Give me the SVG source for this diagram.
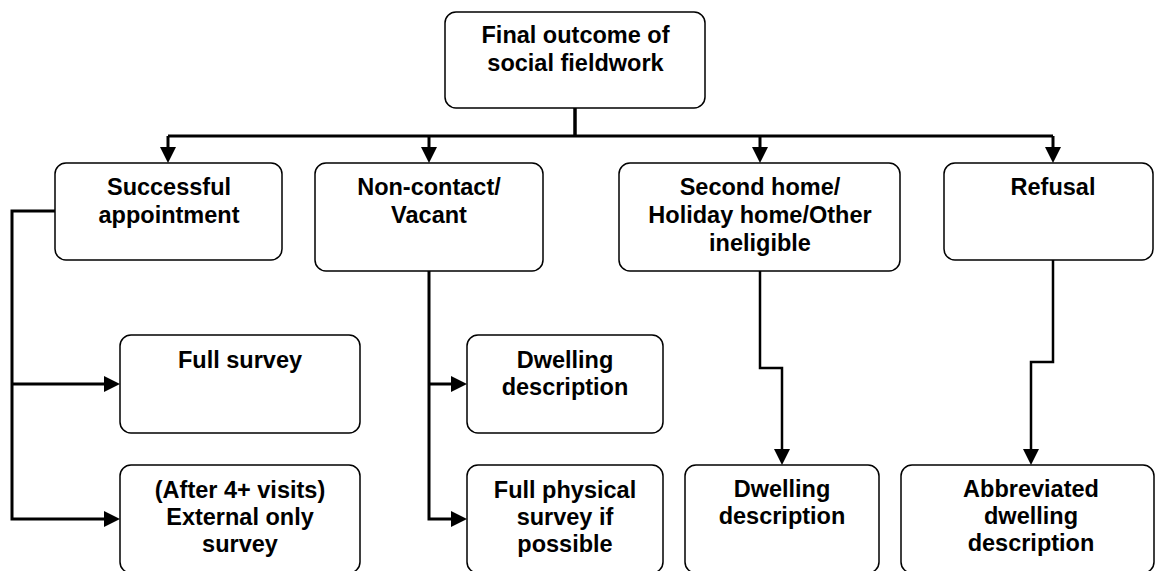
<svg xmlns="http://www.w3.org/2000/svg" width="1155" height="571" viewBox="0 0 1155 571">
<style>
.box{fill:#fff;stroke:#000;stroke-width:1.5}
.t{font-family:"Liberation Sans",Arial,sans-serif;font-weight:bold;font-size:23.5px;fill:#000;text-anchor:middle}
.c{fill:none;stroke:#000;stroke-width:3;stroke-linejoin:miter}
</style>
<defs>
<marker id="ah" markerUnits="userSpaceOnUse" viewBox="0 0 16 16" refX="6" refY="8" markerWidth="16" markerHeight="16" orient="auto">
<path d="M0,0 L16,8 L0,16 z" fill="#000"/>
</marker>
</defs>
<rect width="1155" height="571" fill="#fff"/>
<g id="connectors">
<path class="c" d="M575,108 V136" style="stroke-width:3.5"/>
<path class="c" d="M168,136 H1053"/>
<path class="c" d="M168,136 V153" marker-end="url(#ah)"/>
<path class="c" d="M429,136 V153" marker-end="url(#ah)"/>
<path class="c" d="M760,136 V153" marker-end="url(#ah)"/>
<path class="c" d="M1053,136 V153" marker-end="url(#ah)"/>
<path class="c" d="M55,211 H12 V519 H110" marker-end="url(#ah)"/>
<path class="c" d="M12,384 H110" marker-end="url(#ah)"/>
<path class="c" d="M429,271 V519 H457" marker-end="url(#ah)"/>
<path class="c" d="M429,384 H457" marker-end="url(#ah)"/>
<path class="c" d="M760,271 V368 H782 V455" marker-end="url(#ah)" style="stroke-width:2.5"/>
<path class="c" d="M1053,260 V362 H1031 V455" marker-end="url(#ah)" style="stroke-width:2.5"/>
</g>
<g id="n-final">
<rect class="box" x="445" y="12" width="260" height="96" rx="11"/>
<text class="t" x="575.5" y="43">Final outcome of</text>
<text class="t" x="575.5" y="71">social fieldwork</text>
</g>
<g id="n-successful">
<rect class="box" x="55" y="163" width="227" height="97" rx="11"/>
<text class="t" x="169" y="195">Successful</text>
<text class="t" x="169" y="223">appointment</text>
</g>
<g id="n-noncontact">
<rect class="box" x="315" y="163" width="228" height="108" rx="11"/>
<text class="t" x="429" y="195">Non-contact/</text>
<text class="t" x="429" y="223">Vacant</text>
</g>
<g id="n-second">
<rect class="box" x="619" y="163" width="281" height="108" rx="11"/>
<text class="t" x="760" y="195">Second home/</text>
<text class="t" x="760" y="223">Holiday home/Other</text>
<text class="t" x="760" y="251">ineligible</text>
</g>
<g id="n-refusal">
<rect class="box" x="944" y="163" width="209" height="97" rx="11"/>
<text class="t" x="1053" y="195">Refusal</text>
</g>
<g id="n-fullsurvey">
<rect class="box" x="120" y="335" width="240" height="98" rx="11"/>
<text class="t" x="240" y="368">Full survey</text>
</g>
<g id="n-external">
<rect class="box" x="120" y="465" width="240" height="108" rx="11"/>
<text class="t" x="240" y="498">(After 4+ visits)</text>
<text class="t" x="240" y="525">External only</text>
<text class="t" x="240" y="552">survey</text>
</g>
<g id="n-dwelling1">
<rect class="box" x="467" y="335" width="196" height="98" rx="11"/>
<text class="t" x="565" y="368">Dwelling</text>
<text class="t" x="565" y="395">description</text>
</g>
<g id="n-fullphysical">
<rect class="box" x="467" y="465" width="196" height="108" rx="11"/>
<text class="t" x="565" y="498">Full physical</text>
<text class="t" x="565" y="525">survey if</text>
<text class="t" x="565" y="552">possible</text>
</g>
<g id="n-dwelling2">
<rect class="box" x="685" y="465" width="194" height="108" rx="11"/>
<text class="t" x="782" y="497">Dwelling</text>
<text class="t" x="782" y="524">description</text>
</g>
<g id="n-abbrev">
<rect class="box" x="901" y="465" width="253" height="108" rx="11"/>
<text class="t" x="1031" y="497">Abbreviated</text>
<text class="t" x="1031" y="524">dwelling</text>
<text class="t" x="1031" y="551">description</text>
</g>
</svg>
